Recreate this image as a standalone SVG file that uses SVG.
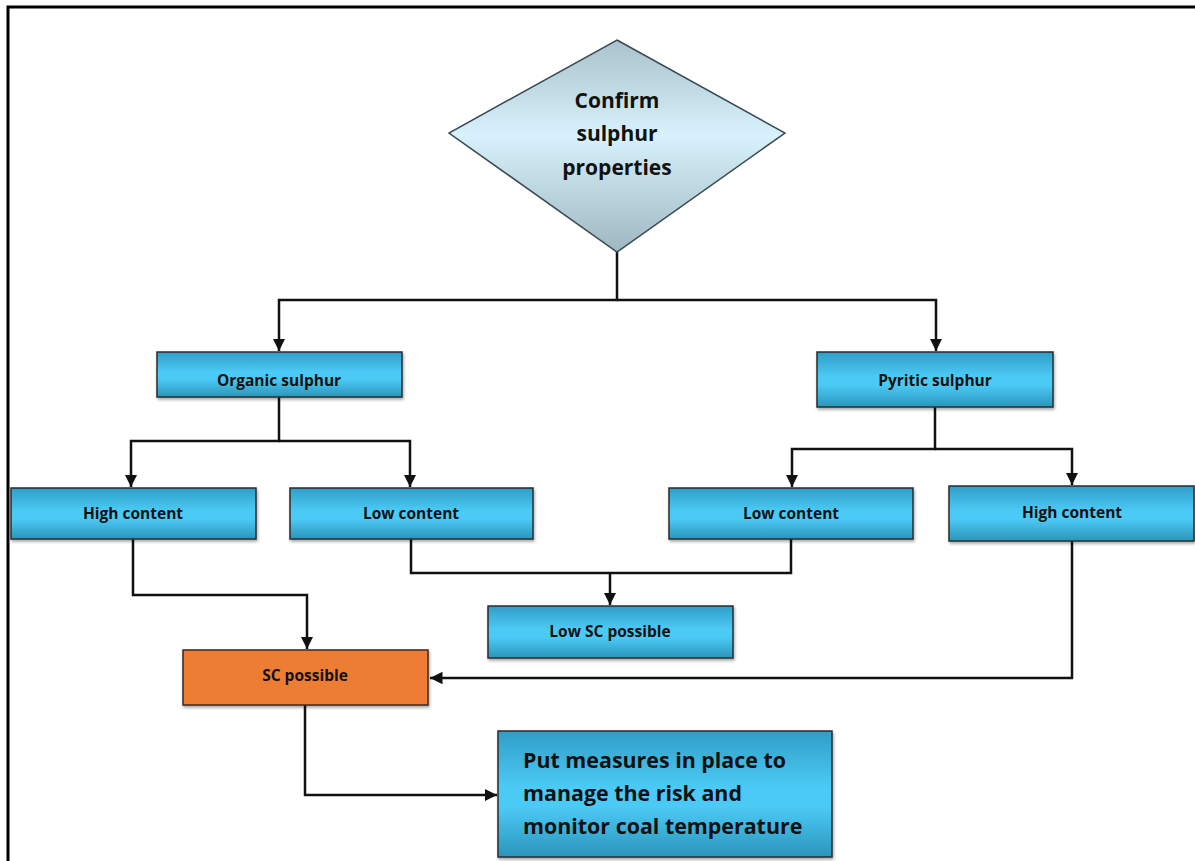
<svg xmlns="http://www.w3.org/2000/svg" width="1195" height="861" viewBox="0 0 1195 861">
<style>
.box{stroke:#2b2b2b;stroke-width:1.5;fill:url(#blue)}
.lbl{font-family:"Open Sans","Liberation Sans",sans-serif;font-weight:bold;font-size:15.5px;fill:#111;text-anchor:middle}
.big{font-family:"Open Sans","Liberation Sans",sans-serif;font-weight:bold;font-size:21.4px;fill:#111}
.dia{font-family:"Open Sans","Liberation Sans",sans-serif;font-weight:bold;font-size:21px;fill:#111;text-anchor:middle}
.con{fill:none;stroke:#111;stroke-width:2.5}
</style>
<defs>
<linearGradient id="blue" x1="0" y1="0" x2="0" y2="1">
<stop offset="0" stop-color="#2f9ec6"/>
<stop offset="0.45" stop-color="#4ccaf6"/>
<stop offset="0.6" stop-color="#4ccaf6"/>
<stop offset="1" stop-color="#2a95bb"/>
</linearGradient>
<linearGradient id="dgrad" x1="0" y1="0" x2="0" y2="1">
<stop offset="0" stop-color="#a9c2cc"/>
<stop offset="0.45" stop-color="#d7f2fc"/>
<stop offset="1" stop-color="#9fb7c1"/>
</linearGradient>
<marker id="arr" viewBox="0 0 10 10" refX="10" refY="5" markerWidth="5" markerHeight="5" markerUnits="strokeWidth" orient="auto">
<path d="M0,0 L10,5 L0,10 z" fill="#111"/>
</marker>
<filter id="sh" x="-5%" y="-5%" width="110%" height="120%">
<feDropShadow dx="1" dy="2" stdDeviation="1.5" flood-color="#000" flood-opacity="0.35"/>
</filter>
</defs>
<rect width="1195" height="861" fill="#fff"/>
<path d="M8,861 L8,7 L1195,7" fill="none" stroke="#000" stroke-width="3"/>

<g id="connectors">
<path class="con" d="M617,252 V300 H279 V351" marker-end="url(#arr)"/>
<path class="con" d="M617,300 H936 V351" marker-end="url(#arr)"/>
<path class="con" d="M279,397 V441 H131 V487" marker-end="url(#arr)"/>
<path class="con" d="M279,441 H410 V487" marker-end="url(#arr)"/>
<path class="con" d="M935,407 V449 H792 V487" marker-end="url(#arr)"/>
<path class="con" d="M935,449 H1072 V485" marker-end="url(#arr)"/>
<path class="con" d="M133,539 V595 H307 V649" marker-end="url(#arr)"/>
<path class="con" d="M411,539 V573 H791 V539"/>
<path class="con" d="M610,573 V605" marker-end="url(#arr)"/>
<path class="con" d="M1072,541 V678 H430" marker-end="url(#arr)"/>
<path class="con" d="M305,705 V795 H497" marker-end="url(#arr)"/>
</g>

<g id="n-confirm">
<path d="M617,40 L785,133 L617,252 L449,133 Z" fill="url(#dgrad)" stroke="#3a4a52" stroke-width="1.5"/>
<text class="dia" x="617" y="108">Confirm</text>
<text class="dia" x="617" y="141">sulphur</text>
<text class="dia" x="617" y="175">properties</text>
</g>
<g id="n-organic"><rect class="box" filter="url(#sh)" x="157" y="352" width="245" height="45"/><text class="lbl" x="279" y="386">Organic sulphur</text></g>
<g id="n-pyritic"><rect class="box" filter="url(#sh)" x="817" y="352" width="236" height="55"/><text class="lbl" x="935" y="386">Pyritic sulphur</text></g>
<g id="n-high-left"><rect class="box" filter="url(#sh)" x="11" y="488" width="245" height="51"/><text class="lbl" x="133" y="519">High content</text></g>
<g id="n-low-left"><rect class="box" filter="url(#sh)" x="290" y="488" width="243" height="51"/><text class="lbl" x="411" y="519">Low content</text></g>
<g id="n-low-right"><rect class="box" filter="url(#sh)" x="669" y="488" width="244" height="51"/><text class="lbl" x="791" y="519">Low content</text></g>
<g id="n-high-right"><rect class="box" filter="url(#sh)" x="949" y="486" width="245" height="55"/><text class="lbl" x="1072" y="518">High content</text></g>
<g id="n-lowsc"><rect class="box" filter="url(#sh)" x="488" y="606" width="245" height="52"/><text class="lbl" x="610" y="637">Low SC possible</text></g>
<g id="n-sc"><rect filter="url(#sh)" x="183" y="650" width="245" height="55" fill="#ed7d31" stroke="#3a2a20" stroke-width="1.5"/><text class="lbl" x="305" y="681">SC possible</text></g>
<g id="n-measures">
<rect class="box" filter="url(#sh)" x="498" y="731" width="334" height="126"/>
<text class="big" x="523" y="768">Put measures in place to</text>
<text class="big" x="523" y="801">manage the risk and</text>
<text class="big" x="523" y="834">monitor coal temperature</text>
</g>
</svg>
